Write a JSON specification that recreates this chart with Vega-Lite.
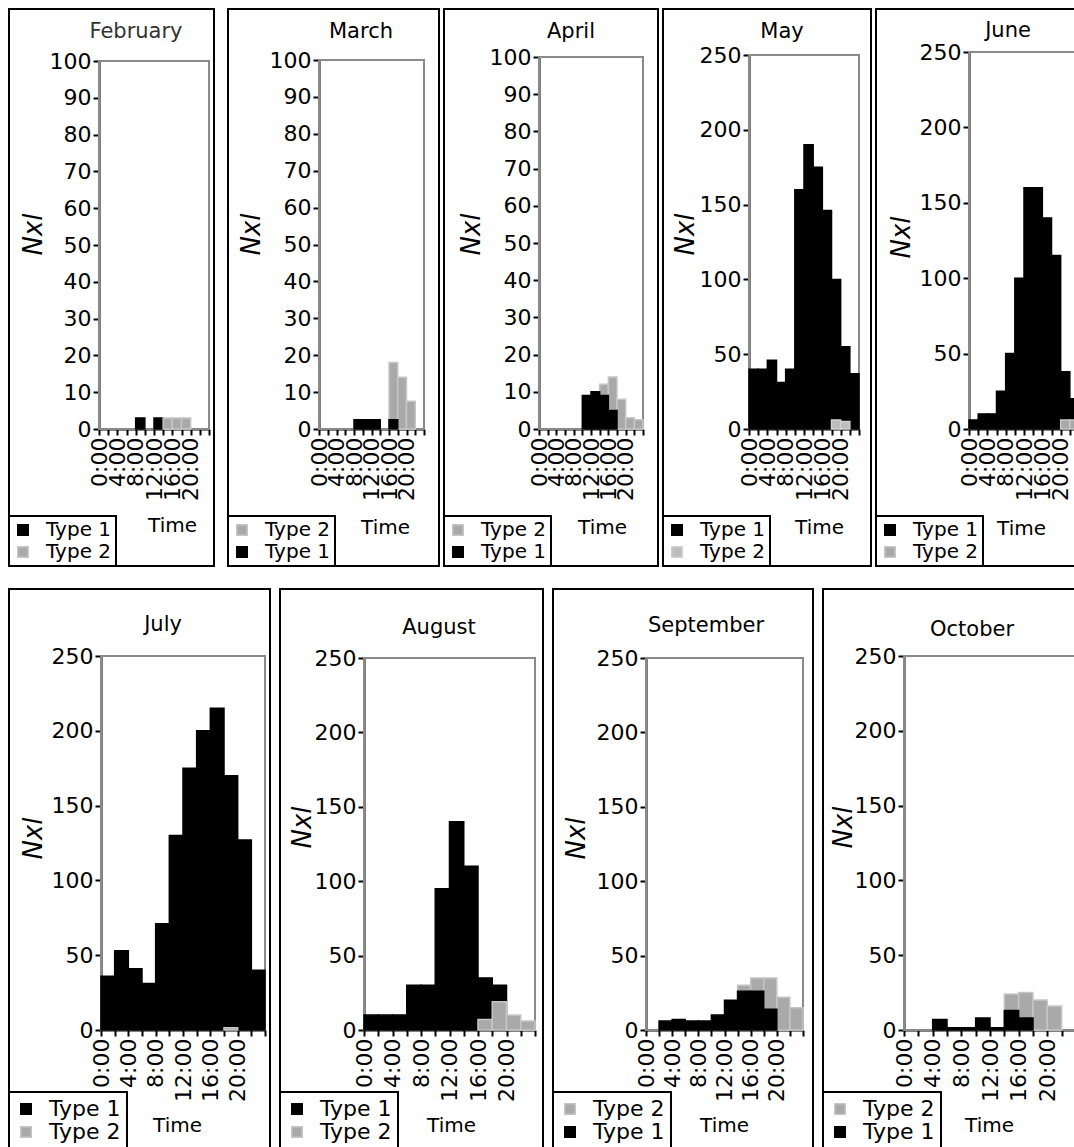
{
"$schema": "https://vega.github.io/schema/vega-lite/v6.json",
"padding": {"left": 7, "top": 8, "right": 0, "bottom": 0},
"background": "white",
"data": {"values": [
{"month":"February","type":"Type 1","start":8,"end":10,"value":3},
{"month":"February","type":"Type 1","start":12,"end":14,"value":3},
{"month":"February","type":"Type 2","start":14,"end":16,"value":3},
{"month":"February","type":"Type 2","start":16,"end":18,"value":3},
{"month":"February","type":"Type 2","start":18,"end":20,"value":3},
{"month":"March","type":"Type 2","start":16,"end":18,"value":18},
{"month":"March","type":"Type 2","start":18,"end":20,"value":14},
{"month":"March","type":"Type 2","start":20,"end":22,"value":7.5},
{"month":"March","type":"Type 1","start":8,"end":10,"value":2.5},
{"month":"March","type":"Type 1","start":10,"end":12,"value":2.5},
{"month":"March","type":"Type 1","start":12,"end":14,"value":2.5},
{"month":"March","type":"Type 1","start":16,"end":18,"value":2.5},
{"month":"April","type":"Type 2","start":14,"end":16,"value":12},
{"month":"April","type":"Type 2","start":16,"end":18,"value":14},
{"month":"April","type":"Type 2","start":18,"end":20,"value":8},
{"month":"April","type":"Type 2","start":20,"end":22,"value":3},
{"month":"April","type":"Type 2","start":22,"end":24,"value":2.5},
{"month":"April","type":"Type 1","start":10,"end":12,"value":9},
{"month":"April","type":"Type 1","start":12,"end":14,"value":10},
{"month":"April","type":"Type 1","start":14,"end":16,"value":9},
{"month":"April","type":"Type 1","start":16,"end":18,"value":5},
{"month":"May","type":"Type 1","start":0,"end":2,"value":40},
{"month":"May","type":"Type 1","start":2,"end":4,"value":40},
{"month":"May","type":"Type 1","start":4,"end":6,"value":46},
{"month":"May","type":"Type 1","start":6,"end":8,"value":31},
{"month":"May","type":"Type 1","start":8,"end":10,"value":40},
{"month":"May","type":"Type 1","start":10,"end":12,"value":160},
{"month":"May","type":"Type 1","start":12,"end":14,"value":190},
{"month":"May","type":"Type 1","start":14,"end":16,"value":175},
{"month":"May","type":"Type 1","start":16,"end":18,"value":146},
{"month":"May","type":"Type 1","start":18,"end":20,"value":100},
{"month":"May","type":"Type 1","start":20,"end":22,"value":55},
{"month":"May","type":"Type 1","start":22,"end":24,"value":37},
{"month":"May","type":"Type 2","start":18,"end":20,"value":6},
{"month":"May","type":"Type 2","start":20,"end":22,"value":5},
{"month":"June","type":"Type 1","start":0,"end":2,"value":6},
{"month":"June","type":"Type 1","start":2,"end":4,"value":10},
{"month":"June","type":"Type 1","start":4,"end":6,"value":10},
{"month":"June","type":"Type 1","start":6,"end":8,"value":25},
{"month":"June","type":"Type 1","start":8,"end":10,"value":50},
{"month":"June","type":"Type 1","start":10,"end":12,"value":100},
{"month":"June","type":"Type 1","start":12,"end":14,"value":160},
{"month":"June","type":"Type 1","start":14,"end":16,"value":160},
{"month":"June","type":"Type 1","start":16,"end":18,"value":140},
{"month":"June","type":"Type 1","start":18,"end":20,"value":115},
{"month":"June","type":"Type 1","start":20,"end":22,"value":38},
{"month":"June","type":"Type 1","start":22,"end":24,"value":20},
{"month":"June","type":"Type 2","start":20,"end":22,"value":6},
{"month":"June","type":"Type 2","start":22,"end":24,"value":6},
{"month":"July","type":"Type 1","start":0,"end":2,"value":36},
{"month":"July","type":"Type 1","start":2,"end":4,"value":53},
{"month":"July","type":"Type 1","start":4,"end":6,"value":41},
{"month":"July","type":"Type 1","start":6,"end":8,"value":31},
{"month":"July","type":"Type 1","start":8,"end":10,"value":71},
{"month":"July","type":"Type 1","start":10,"end":12,"value":130},
{"month":"July","type":"Type 1","start":12,"end":14,"value":175},
{"month":"July","type":"Type 1","start":14,"end":16,"value":200},
{"month":"July","type":"Type 1","start":16,"end":18,"value":215},
{"month":"July","type":"Type 1","start":18,"end":20,"value":170},
{"month":"July","type":"Type 1","start":20,"end":22,"value":127},
{"month":"July","type":"Type 1","start":22,"end":24,"value":40},
{"month":"July","type":"Type 2","start":18,"end":20,"value":1.5},
{"month":"August","type":"Type 1","start":0,"end":2,"value":10},
{"month":"August","type":"Type 1","start":2,"end":4,"value":10},
{"month":"August","type":"Type 1","start":4,"end":6,"value":10},
{"month":"August","type":"Type 1","start":6,"end":8,"value":30},
{"month":"August","type":"Type 1","start":8,"end":10,"value":30},
{"month":"August","type":"Type 1","start":10,"end":12,"value":95},
{"month":"August","type":"Type 1","start":12,"end":14,"value":140},
{"month":"August","type":"Type 1","start":14,"end":16,"value":110},
{"month":"August","type":"Type 1","start":16,"end":18,"value":35},
{"month":"August","type":"Type 1","start":18,"end":20,"value":30},
{"month":"August","type":"Type 2","start":16,"end":18,"value":7},
{"month":"August","type":"Type 2","start":18,"end":20,"value":19},
{"month":"August","type":"Type 2","start":20,"end":22,"value":10},
{"month":"August","type":"Type 2","start":22,"end":24,"value":6},
{"month":"September","type":"Type 2","start":14,"end":16,"value":30},
{"month":"September","type":"Type 2","start":16,"end":18,"value":35},
{"month":"September","type":"Type 2","start":18,"end":20,"value":35},
{"month":"September","type":"Type 2","start":20,"end":22,"value":22},
{"month":"September","type":"Type 2","start":22,"end":24,"value":15},
{"month":"September","type":"Type 1","start":2,"end":4,"value":6},
{"month":"September","type":"Type 1","start":4,"end":6,"value":7},
{"month":"September","type":"Type 1","start":6,"end":8,"value":6},
{"month":"September","type":"Type 1","start":8,"end":10,"value":6},
{"month":"September","type":"Type 1","start":10,"end":12,"value":10},
{"month":"September","type":"Type 1","start":12,"end":14,"value":20},
{"month":"September","type":"Type 1","start":14,"end":16,"value":26},
{"month":"September","type":"Type 1","start":16,"end":18,"value":26},
{"month":"September","type":"Type 1","start":18,"end":20,"value":14},
{"month":"October","type":"Type 2","start":14,"end":16,"value":24},
{"month":"October","type":"Type 2","start":16,"end":18,"value":25},
{"month":"October","type":"Type 2","start":18,"end":20,"value":20},
{"month":"October","type":"Type 2","start":20,"end":22,"value":16},
{"month":"October","type":"Type 1","start":4,"end":6,"value":7},
{"month":"October","type":"Type 1","start":6,"end":8,"value":1.5},
{"month":"October","type":"Type 1","start":8,"end":10,"value":1.5},
{"month":"October","type":"Type 1","start":10,"end":12,"value":8},
{"month":"October","type":"Type 1","start":12,"end":14,"value":1.5},
{"month":"October","type":"Type 1","start":14,"end":16,"value":13},
{"month":"October","type":"Type 1","start":16,"end":18,"value":8}
]},
"spacing": 20,
"resolve": {"scale": {"fill": "independent", "stroke": "independent"}, "legend": {"fill": "independent", "stroke": "independent"}},
"vconcat": [
{"resolve": {"scale": {"fill": "independent", "stroke": "independent"}, "legend": {"fill": "independent", "stroke": "independent"}},
 "hconcat": [
 {"width": 205, "height": 557,
  "title": {"text": "February", "frame": "group", "anchor": "middle", "dx": 24.5, "offset": -44, "baseline": "middle", "color": "#333333"},
  "layer": [
   {"data": {"values": [{}]}, "mark": {"type": "rect", "fill": "white", "fillOpacity": 0, "stroke": "#8a8a8a", "strokeWidth": 2},
    "encoding": {
     "x": {"datum": 0, "type": "quantitative", "axis": {"values": [0,2,4,6,8,10,12,14,16,18,20,22,24], "labelOverlap": false, "labelExpr": "datum.value % 4 === 0 && datum.value < 24 ? datum.value + ':00' : ''", "offset": -137, "title": "Time", "titleX": 163, "titleY": 96}},
     "x2": {"datum": 24},
     "y": {"datum": 0, "type": "quantitative", "axis": {"values": [0,10,20,30,40,50,60,70,80,90,100], "labelOverlap": false, "offset": -90, "title": "Nxl", "titleX": -66, "titleY": 225}},
     "y2": {"datum": 100}}},
   {"transform": [{"filter": "datum.month === 'February'"}],
    "mark": {"type": "bar", "strokeWidth": 1.5},
    "encoding": {
     "x": {"field": "start", "type": "quantitative", "scale": {"domain": [0, 24], "range": [90, 200], "nice": false, "zero": false},
      "axis": {"values": [0,2,4,6,8,10,12,14,16,18,20,22,24], "labelOverlap": false, "labelExpr": "datum.value % 4 === 0 && datum.value < 24 ? datum.value + ':00' : ''", "offset": -137, "title": "Time", "titleX": 163, "titleY": 96}},
     "x2": {"field": "end"},
     "y": {"field": "value", "type": "quantitative", "stack": null, "scale": {"domain": [0, 100], "range": [420, 52], "nice": false},
      "axis": {"values": [0,10,20,30,40,50,60,70,80,90,100], "labelOverlap": false, "offset": -90, "title": "Nxl", "titleX": -66, "titleY": 225}},
     "y2": {"datum": 0},
     "fill": {"field": "type", "type": "nominal", "title": null, "scale": {"domain": ["Type 1", "Type 2"], "range": ["#000000", "#a9a9a9"]}},
     "stroke": {"field": "type", "type": "nominal", "title": null, "scale": {"domain": ["Type 1", "Type 2"], "range": ["#000000", "#c6c6c6"]}}
    }}
  ]},
 {"resolve": {"scale": {"fill": "independent", "stroke": "independent"}, "legend": {"fill": "independent", "stroke": "independent"}},
  "bounds": "flush",
  "hconcat": [
  {"width": 211, "height": 557,
   "title": {"text": "March", "frame": "group", "anchor": "middle", "dx": 27.5, "offset": -44, "baseline": "middle"},
   "layer": [
    {"data": {"values": [{}]}, "mark": {"type": "rect", "fill": "white", "fillOpacity": 0, "stroke": "#8a8a8a", "strokeWidth": 2},
     "encoding": {
      "x": {"datum": 0, "type": "quantitative", "axis": {"values": [0,2,4,6,8,10,12,14,16,18,20,22,24], "labelOverlap": false, "labelExpr": "datum.value % 4 === 0 && datum.value < 24 ? datum.value + ':00' : ''", "offset": -137, "title": "Time", "titleX": 157, "titleY": 98}},
      "x2": {"datum": 24},
      "y": {"datum": 0, "type": "quantitative", "axis": {"values": [0,10,20,30,40,50,60,70,80,90,100], "labelOverlap": false, "offset": -91, "title": "Nxl", "titleX": -68, "titleY": 225}},
      "y2": {"datum": 100}}},
    {"transform": [{"filter": "datum.month === 'March'"}],
     "mark": {"type": "bar", "strokeWidth": 1.5},
     "encoding": {
      "x": {"field": "start", "type": "quantitative", "scale": {"domain": [0, 24], "range": [91, 196], "nice": false, "zero": false},
       "axis": {"values": [0,2,4,6,8,10,12,14,16,18,20,22,24], "labelOverlap": false, "labelExpr": "datum.value % 4 === 0 && datum.value < 24 ? datum.value + ':00' : ''", "offset": -137, "title": "Time", "titleX": 157, "titleY": 98}},
      "x2": {"field": "end"},
      "y": {"field": "value", "type": "quantitative", "stack": null, "scale": {"domain": [0, 100], "range": [420, 51], "nice": false},
       "axis": {"values": [0,10,20,30,40,50,60,70,80,90,100], "labelOverlap": false, "offset": -91, "title": "Nxl", "titleX": -68, "titleY": 225}},
      "y2": {"datum": 0},
      "fill": {"field": "type", "type": "nominal", "title": null, "scale": {"domain": ["Type 2", "Type 1"], "range": ["#a9a9a9", "#000000"]}},
      "stroke": {"field": "type", "type": "nominal", "title": null, "scale": {"domain": ["Type 2", "Type 1"], "range": ["#c6c6c6", "#000000"]}}
     }}
   ]},
  {"width": 214, "height": 557,
   "title": {"text": "April", "frame": "group", "anchor": "middle", "dx": 20, "offset": -44, "baseline": "middle"},
   "layer": [
    {"data": {"values": [{}]}, "mark": {"type": "rect", "fill": "white", "fillOpacity": 0, "stroke": "#8a8a8a", "strokeWidth": 2},
     "encoding": {
      "x": {"datum": 0, "type": "quantitative", "axis": {"values": [0,2,4,6,8,10,12,14,16,18,20,22,24], "labelOverlap": false, "labelExpr": "datum.value % 4 === 0 && datum.value < 24 ? datum.value + ':00' : ''", "offset": -137, "title": "Time", "titleX": 158, "titleY": 98}},
      "x2": {"datum": 24},
      "y": {"datum": 0, "type": "quantitative", "axis": {"values": [0,10,20,30,40,50,60,70,80,90,100], "labelOverlap": false, "offset": -95, "title": "Nxl", "titleX": -68, "titleY": 225}},
      "y2": {"datum": 100}}},
    {"transform": [{"filter": "datum.month === 'April'"}],
     "mark": {"type": "bar", "strokeWidth": 1.5},
     "encoding": {
      "x": {"field": "start", "type": "quantitative", "scale": {"domain": [0, 24], "range": [95, 199], "nice": false, "zero": false},
       "axis": {"values": [0,2,4,6,8,10,12,14,16,18,20,22,24], "labelOverlap": false, "labelExpr": "datum.value % 4 === 0 && datum.value < 24 ? datum.value + ':00' : ''", "offset": -137, "title": "Time", "titleX": 158, "titleY": 98}},
      "x2": {"field": "end"},
      "y": {"field": "value", "type": "quantitative", "stack": null, "scale": {"domain": [0, 100], "range": [420, 48], "nice": false},
       "axis": {"values": [0,10,20,30,40,50,60,70,80,90,100], "labelOverlap": false, "offset": -95, "title": "Nxl", "titleX": -68, "titleY": 225}},
      "y2": {"datum": 0},
      "fill": {"field": "type", "type": "nominal", "title": null, "scale": {"domain": ["Type 2", "Type 1"], "range": ["#a9a9a9", "#000000"]}},
      "stroke": {"field": "type", "type": "nominal", "title": null, "scale": {"domain": ["Type 2", "Type 1"], "range": ["#c6c6c6", "#000000"]}}
     }}
   ]},
  {"width": 208, "height": 557,
   "title": {"text": "May", "frame": "group", "anchor": "middle", "dx": 15, "offset": -44, "baseline": "middle"},
   "layer": [
    {"data": {"values": [{}]}, "mark": {"type": "rect", "fill": "white", "fillOpacity": 0, "stroke": "#8a8a8a", "strokeWidth": 2},
     "encoding": {
      "x": {"datum": 0, "type": "quantitative", "axis": {"values": [0,2,4,6,8,10,12,14,16,18,20,22,24], "labelOverlap": false, "labelExpr": "datum.value % 4 === 0 && datum.value < 24 ? datum.value + ':00' : ''", "offset": -137, "title": "Time", "titleX": 156, "titleY": 98}},
      "x2": {"datum": 24},
      "y": {"datum": 0, "type": "quantitative", "axis": {"values": [0,50,100,150,200,250], "labelOverlap": false, "offset": -86, "title": "Nxl", "titleX": -64, "titleY": 225}},
      "y2": {"datum": 250}}},
    {"transform": [{"filter": "datum.month === 'May'"}],
     "mark": {"type": "bar", "strokeWidth": 1.5},
     "encoding": {
      "x": {"field": "start", "type": "quantitative", "scale": {"domain": [0, 24], "range": [86, 196], "nice": false, "zero": false},
       "axis": {"values": [0,2,4,6,8,10,12,14,16,18,20,22,24], "labelOverlap": false, "labelExpr": "datum.value % 4 === 0 && datum.value < 24 ? datum.value + ':00' : ''", "offset": -137, "title": "Time", "titleX": 156, "titleY": 98}},
      "x2": {"field": "end"},
      "y": {"field": "value", "type": "quantitative", "stack": null, "scale": {"domain": [0, 250], "range": [420, 46], "nice": false},
       "axis": {"values": [0,50,100,150,200,250], "labelOverlap": false, "offset": -86, "title": "Nxl", "titleX": -64, "titleY": 225}},
      "y2": {"datum": 0},
      "fill": {"field": "type", "type": "nominal", "title": null, "scale": {"domain": ["Type 1", "Type 2"], "range": ["#000000", "#bdbdbd"]}},
      "stroke": {"field": "type", "type": "nominal", "title": null, "scale": {"domain": ["Type 1", "Type 2"], "range": ["#000000", "#d2d2d2"]}}
     }}
   ]},
  {"width": 210, "height": 557,
   "title": {"text": "June", "frame": "group", "anchor": "middle", "dx": 27, "offset": -43, "baseline": "middle"},
   "layer": [
    {"data": {"values": [{}]}, "mark": {"type": "rect", "fill": "white", "fillOpacity": 0, "stroke": "#8a8a8a", "strokeWidth": 2},
     "encoding": {
      "x": {"datum": 0, "type": "quantitative", "axis": {"values": [0,2,4,6,8,10,12,14,16,18,20,22,24], "labelOverlap": false, "labelExpr": "datum.value % 4 === 0 && datum.value < 24 ? datum.value + ':00' : ''", "offset": -137, "title": "Time", "titleX": 145, "titleY": 99}},
      "x2": {"datum": 24},
      "y": {"datum": 0, "type": "quantitative", "axis": {"values": [0,50,100,150,200,250], "labelOverlap": false, "offset": -93, "title": "Nxl", "titleX": -68, "titleY": 228}},
      "y2": {"datum": 250}}},
    {"transform": [{"filter": "datum.month === 'June'"}],
     "mark": {"type": "bar", "strokeWidth": 1.5},
     "encoding": {
      "x": {"field": "start", "type": "quantitative", "scale": {"domain": [0, 24], "range": [93, 203], "nice": false, "zero": false},
       "axis": {"values": [0,2,4,6,8,10,12,14,16,18,20,22,24], "labelOverlap": false, "labelExpr": "datum.value % 4 === 0 && datum.value < 24 ? datum.value + ':00' : ''", "offset": -137, "title": "Time", "titleX": 145, "titleY": 99}},
      "x2": {"field": "end"},
      "y": {"field": "value", "type": "quantitative", "stack": null, "scale": {"domain": [0, 250], "range": [420, 43], "nice": false},
       "axis": {"values": [0,50,100,150,200,250], "labelOverlap": false, "offset": -93, "title": "Nxl", "titleX": -68, "titleY": 228}},
      "y2": {"datum": 0},
      "fill": {"field": "type", "type": "nominal", "title": null, "scale": {"domain": ["Type 1", "Type 2"], "range": ["#000000", "#a9a9a9"]}},
      "stroke": {"field": "type", "type": "nominal", "title": null, "scale": {"domain": ["Type 1", "Type 2"], "range": ["#000000", "#c6c6c6"]}}
     }}
   ]}
 ], "spacing": 5}
], "spacing": 5},
{"resolve": {"scale": {"fill": "independent", "stroke": "independent"}, "legend": {"fill": "independent", "stroke": "independent"}},
 "bounds": "flush",
 "hconcat": [
 {"width": 261, "height": 560,
  "title": {"text": "July", "frame": "group", "anchor": "middle", "dx": 23.5, "offset": -57, "baseline": "middle"},
  "layer": [
   {"data": {"values": [{}]}, "mark": {"type": "rect", "fill": "white", "fillOpacity": 0, "stroke": "#8a8a8a", "strokeWidth": 2},
    "encoding": {
     "x": {"datum": 0, "type": "quantitative", "axis": {"values": [0,2,4,6,8,10,12,14,16,18,20,22,24], "labelOverlap": false, "labelExpr": "datum.value % 4 === 0 && datum.value < 24 ? datum.value + ':00' : ''", "offset": -119, "title": "Time", "titleX": 168, "titleY": 95}},
     "x2": {"datum": 24},
     "y": {"datum": 0, "type": "quantitative", "axis": {"values": [0,50,100,150,200,250], "labelOverlap": false, "offset": -92, "title": "Nxl", "titleX": -68, "titleY": 249}},
     "y2": {"datum": 250}}},
   {"transform": [{"filter": "datum.month === 'July'"}],
    "mark": {"type": "bar", "strokeWidth": 1.5},
    "encoding": {
     "x": {"field": "start", "type": "quantitative", "scale": {"domain": [0, 24], "range": [92, 256], "nice": false, "zero": false},
      "axis": {"values": [0,2,4,6,8,10,12,14,16,18,20,22,24], "labelOverlap": false, "labelExpr": "datum.value % 4 === 0 && datum.value < 24 ? datum.value + ':00' : ''", "offset": -119, "title": "Time", "titleX": 168, "titleY": 95}},
     "x2": {"field": "end"},
     "y": {"field": "value", "type": "quantitative", "stack": null, "scale": {"domain": [0, 250], "range": [441, 67], "nice": false},
      "axis": {"values": [0,50,100,150,200,250], "labelOverlap": false, "offset": -92, "title": "Nxl", "titleX": -68, "titleY": 249}},
     "y2": {"datum": 0},
     "fill": {"field": "type", "type": "nominal", "title": null, "scale": {"domain": ["Type 1", "Type 2"], "range": ["#000000", "#a9a9a9"]}, "legend": {"rowPadding": 1, "padding": 6, "labelFontSize": 22, "labelOffset": 12}},
     "stroke": {"field": "type", "type": "nominal", "title": null, "scale": {"domain": ["Type 1", "Type 2"], "range": ["#000000", "#c6c6c6"]}, "legend": {"rowPadding": 1, "padding": 6, "labelFontSize": 22, "labelOffset": 12}}
    }}
  ]},
 {"width": 263, "height": 560,
  "title": {"text": "August", "frame": "group", "anchor": "middle", "dx": 27.5, "offset": -60, "baseline": "middle"},
  "layer": [
   {"data": {"values": [{}]}, "mark": {"type": "rect", "fill": "white", "fillOpacity": 0, "stroke": "#8a8a8a", "strokeWidth": 2},
    "encoding": {
     "x": {"datum": 0, "type": "quantitative", "axis": {"values": [0,2,4,6,8,10,12,14,16,18,20,22,24], "labelOverlap": false, "labelExpr": "datum.value % 4 === 0 && datum.value < 24 ? datum.value + ':00' : ''", "offset": -119, "title": "Time", "titleX": 171, "titleY": 95}},
     "x2": {"datum": 24},
     "y": {"datum": 0, "type": "quantitative", "axis": {"values": [0,50,100,150,200,250], "labelOverlap": false, "offset": -84, "title": "Nxl", "titleX": -62, "titleY": 238}},
     "y2": {"datum": 250}}},
   {"transform": [{"filter": "datum.month === 'August'"}],
    "mark": {"type": "bar", "strokeWidth": 1.5},
    "encoding": {
     "x": {"field": "start", "type": "quantitative", "scale": {"domain": [0, 24], "range": [84, 255], "nice": false, "zero": false},
      "axis": {"values": [0,2,4,6,8,10,12,14,16,18,20,22,24], "labelOverlap": false, "labelExpr": "datum.value % 4 === 0 && datum.value < 24 ? datum.value + ':00' : ''", "offset": -119, "title": "Time", "titleX": 171, "titleY": 95}},
     "x2": {"field": "end"},
     "y": {"field": "value", "type": "quantitative", "stack": null, "scale": {"domain": [0, 250], "range": [441, 69], "nice": false},
      "axis": {"values": [0,50,100,150,200,250], "labelOverlap": false, "offset": -84, "title": "Nxl", "titleX": -62, "titleY": 238}},
     "y2": {"datum": 0},
     "fill": {"field": "type", "type": "nominal", "title": null, "scale": {"domain": ["Type 1", "Type 2"], "range": ["#000000", "#a9a9a9"]}, "legend": {"rowPadding": 1, "padding": 6, "labelFontSize": 22, "labelOffset": 12}},
     "stroke": {"field": "type", "type": "nominal", "title": null, "scale": {"domain": ["Type 1", "Type 2"], "range": ["#000000", "#c6c6c6"]}, "legend": {"rowPadding": 1, "padding": 6, "labelFontSize": 22, "labelOffset": 12}}
    }}
  ]},
 {"width": 260, "height": 560,
  "title": {"text": "September", "frame": "group", "anchor": "middle", "dx": 23, "offset": -58, "baseline": "middle"},
  "layer": [
   {"data": {"values": [{}]}, "mark": {"type": "rect", "fill": "white", "fillOpacity": 0, "stroke": "#8a8a8a", "strokeWidth": 2},
    "encoding": {
     "x": {"datum": 0, "type": "quantitative", "axis": {"values": [0,2,4,6,8,10,12,14,16,18,20,22,24], "labelOverlap": false, "labelExpr": "datum.value % 4 === 0 && datum.value < 24 ? datum.value + ':00' : ''", "offset": -119, "title": "Time", "titleX": 171, "titleY": 95}},
     "x2": {"datum": 24},
     "y": {"datum": 0, "type": "quantitative", "axis": {"values": [0,50,100,150,200,250], "labelOverlap": false, "offset": -93, "title": "Nxl", "titleX": -70, "titleY": 249}},
     "y2": {"datum": 250}}},
   {"transform": [{"filter": "datum.month === 'September'"}],
    "mark": {"type": "bar", "strokeWidth": 1.5},
    "encoding": {
     "x": {"field": "start", "type": "quantitative", "scale": {"domain": [0, 24], "range": [93, 250], "nice": false, "zero": false},
      "axis": {"values": [0,2,4,6,8,10,12,14,16,18,20,22,24], "labelOverlap": false, "labelExpr": "datum.value % 4 === 0 && datum.value < 24 ? datum.value + ':00' : ''", "offset": -119, "title": "Time", "titleX": 171, "titleY": 95}},
     "x2": {"field": "end"},
     "y": {"field": "value", "type": "quantitative", "stack": null, "scale": {"domain": [0, 250], "range": [441, 69], "nice": false},
      "axis": {"values": [0,50,100,150,200,250], "labelOverlap": false, "offset": -93, "title": "Nxl", "titleX": -70, "titleY": 249}},
     "y2": {"datum": 0},
     "fill": {"field": "type", "type": "nominal", "title": null, "scale": {"domain": ["Type 2", "Type 1"], "range": ["#a9a9a9", "#000000"]}, "legend": {"rowPadding": 1, "padding": 6, "labelFontSize": 22, "labelOffset": 12}},
     "stroke": {"field": "type", "type": "nominal", "title": null, "scale": {"domain": ["Type 2", "Type 1"], "range": ["#c6c6c6", "#000000"]}, "legend": {"rowPadding": 1, "padding": 6, "labelFontSize": 22, "labelOffset": 12}}
    }}
  ]},
 {"width": 260, "height": 560,
  "title": {"text": "October", "frame": "group", "anchor": "middle", "dx": 19, "offset": -62, "baseline": "middle"},
  "layer": [
   {"data": {"values": [{}]}, "mark": {"type": "rect", "fill": "white", "fillOpacity": 0, "stroke": "#8a8a8a", "strokeWidth": 2},
    "encoding": {
     "x": {"datum": 0, "type": "quantitative", "axis": {"values": [0,2,4,6,8,10,12,14,16,18,20,22,24], "labelOverlap": false, "labelExpr": "datum.value % 4 === 0 && datum.value < 24 ? datum.value + ':00' : ''", "offset": -119, "title": "Time", "titleX": 166, "titleY": 95}},
     "x2": {"datum": 24},
     "y": {"datum": 0, "type": "quantitative", "axis": {"values": [0,50,100,150,200,250], "labelOverlap": false, "offset": -81, "title": "Nxl", "titleX": -61, "titleY": 238}},
     "y2": {"datum": 250}}},
   {"transform": [{"filter": "datum.month === 'October'"}],
    "mark": {"type": "bar", "strokeWidth": 1.5},
    "encoding": {
     "x": {"field": "start", "type": "quantitative", "scale": {"domain": [0, 24], "range": [81, 253], "nice": false, "zero": false},
      "axis": {"values": [0,2,4,6,8,10,12,14,16,18,20,22,24], "labelOverlap": false, "labelExpr": "datum.value % 4 === 0 && datum.value < 24 ? datum.value + ':00' : ''", "offset": -119, "title": "Time", "titleX": 166, "titleY": 95}},
     "x2": {"field": "end"},
     "y": {"field": "value", "type": "quantitative", "stack": null, "scale": {"domain": [0, 250], "range": [441, 67], "nice": false},
      "axis": {"values": [0,50,100,150,200,250], "labelOverlap": false, "offset": -81, "title": "Nxl", "titleX": -61, "titleY": 238}},
     "y2": {"datum": 0},
     "fill": {"field": "type", "type": "nominal", "title": null, "scale": {"domain": ["Type 2", "Type 1"], "range": ["#a9a9a9", "#000000"]}, "legend": {"rowPadding": 1, "padding": 6, "labelFontSize": 22, "labelOffset": 12}},
     "stroke": {"field": "type", "type": "nominal", "title": null, "scale": {"domain": ["Type 2", "Type 1"], "range": ["#c6c6c6", "#000000"]}, "legend": {"rowPadding": 1, "padding": 6, "labelFontSize": 22, "labelOffset": 12}}
    }}
  ]}
], "spacing": 10}
],
"config": {
 "font": "DejaVu Sans",
 "view": {"stroke": "black", "strokeWidth": 2},
 "title": {"fontSize": 21, "fontWeight": "normal", "color": "black", "font": "DejaVu Sans"},
 "axis": {"domainColor": "black", "domainWidth": 2, "tickColor": "black", "tickWidth": 2, "tickSize": 6, "labelFontSize": 22, "labelColor": "black", "labelFont": "DejaVu Sans", "grid": false, "zindex": 1, "labelOverlap": false, "labelBound": false, "labelFlush": false, "titleColor": "black", "titleFontWeight": "normal", "titleFont": "DejaVu Sans"},
 "axisX": {"labelAngle": -90, "labelPadding": 2, "labelAlign": "right", "labelBaseline": "middle", "titleFontSize": 20, "titleAngle": 0, "titleAlign": "center", "titleBaseline": "middle"},
 "axisY": {"labelPadding": 2, "titleFontSize": 26, "titleFontStyle": "italic", "titleAngle": -90, "titleAlign": "center", "titleBaseline": "middle"},
 "legend": {"orient": "bottom-left", "offset": 0, "padding": 4, "strokeColor": "black", "strokeWidth": 2, "fillColor": "white", "labelFontSize": 20, "labelFont": "DejaVu Sans", "labelColor": "black", "symbolType": "square", "symbolSize": 110, "symbolStrokeWidth": 1.5, "labelOffset": 13, "rowPadding": 2}
}
}
